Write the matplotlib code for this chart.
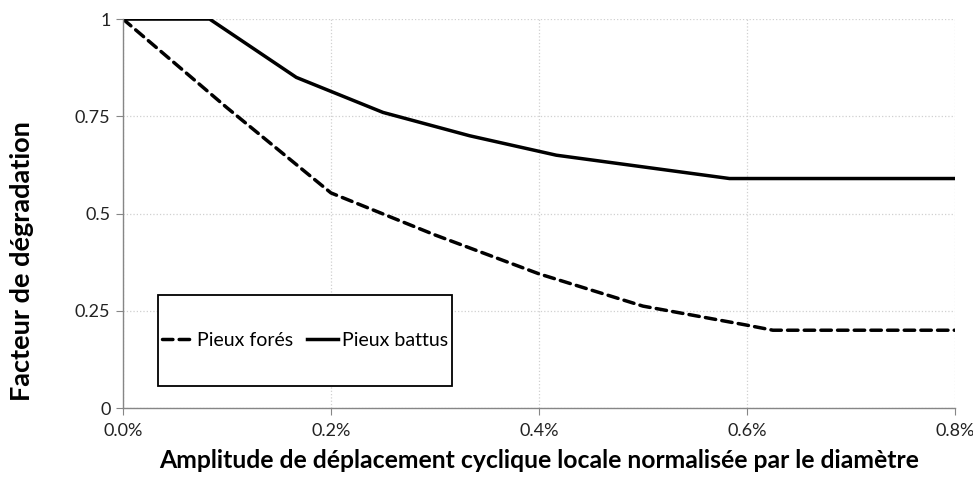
import matplotlib.pyplot as plt
import matplotlib.patches as mp
from matplotlib.ticker import FixedLocator

plt.rcParams['font.family'] = ['Lato', 'DejaVu Sans']

# amplitude normalised by diameter, in %
x_fores = [0.0, 0.1, 0.2, 0.3, 0.4, 0.5, 0.6, 0.625, 0.8]
y_fores = [1.0, 0.772, 0.553, 0.445, 0.345, 0.262, 0.213, 0.2, 0.2]

x_battus = [0.0, 0.0833, 0.1667, 0.25, 0.3333, 0.4167, 0.5833, 0.8]
y_battus = [1.0, 1.0, 0.85, 0.76, 0.70, 0.65, 0.59, 0.59]

xticks = [0.0, 0.2, 0.4, 0.6, 0.8]
xticklabels = ["0.0%", "0.2%", "0.4%", "0.6%", "0.8%"]
yticks = [0, 0.25, 0.5, 0.75, 1]
yticklabels = ["0", "0.25", "0.5", "0.75", "1"]

fig = plt.figure(figsize=(9.73, 4.79), dpi=100)
ax = fig.add_axes([0.1264, 0.1482, 0.855, 0.812])

ax.plot(x_fores, y_fores, color="black", lw=2.5, linestyle=(0, (3.0, 1.8)),
        dash_capstyle="round", label="Pieux forés")
ax.plot(x_battus, y_battus, color="black", lw=2.5, label="Pieux battus")

ax.set_xlim(0, 0.8)
ax.set_ylim(0, 1)
ax.xaxis.set_major_locator(FixedLocator(xticks))
ax.set_xticklabels(xticklabels)
ax.yaxis.set_major_locator(FixedLocator(yticks))
ax.set_yticklabels(yticklabels)

ax.grid(True, color="#d0d0d0", linestyle=":", linewidth=0.9)
ax.set_axisbelow(True)
for s in ["top", "right"]:
  ax.spines[s].set_visible(False)
for s in ["left", "bottom"]:
  ax.spines[s].set_color("#868686")
  ax.spines[s].set_linewidth(1)
ax.tick_params(axis="both", direction="out", length=5, color="#868686",
               labelsize=13, labelcolor="#222222", pad=4)
ax.tick_params(axis="x", pad=6)

ax.set_xlabel("Amplitude de déplacement cyclique locale normalisée par le diamètre",
              fontsize=17.8, fontweight="bold", labelpad=7)
# Excel put the y title a bit below the middle of the plot
fig.text(22 / 973, 1 - 261 / 479, "Facteur de dégradation", rotation=90,
         ha="center", va="center", fontsize=19.5, fontweight="bold")

# legend box
ax.add_patch(mp.Rectangle((0.042, 0.0566), 0.353, 0.2334, transform=ax.transAxes,
                          facecolor="white", edgecolor="black", lw=1.3, zorder=5))
leg = ax.legend(loc="center", bbox_to_anchor=(0.2185, 0.173), ncol=2, frameon=False,
                fontsize=14, handlelength=1.6, handletextpad=0.2, columnspacing=0.7)
leg.set_zorder(6)

plt.savefig("out.png", dpi=100)
